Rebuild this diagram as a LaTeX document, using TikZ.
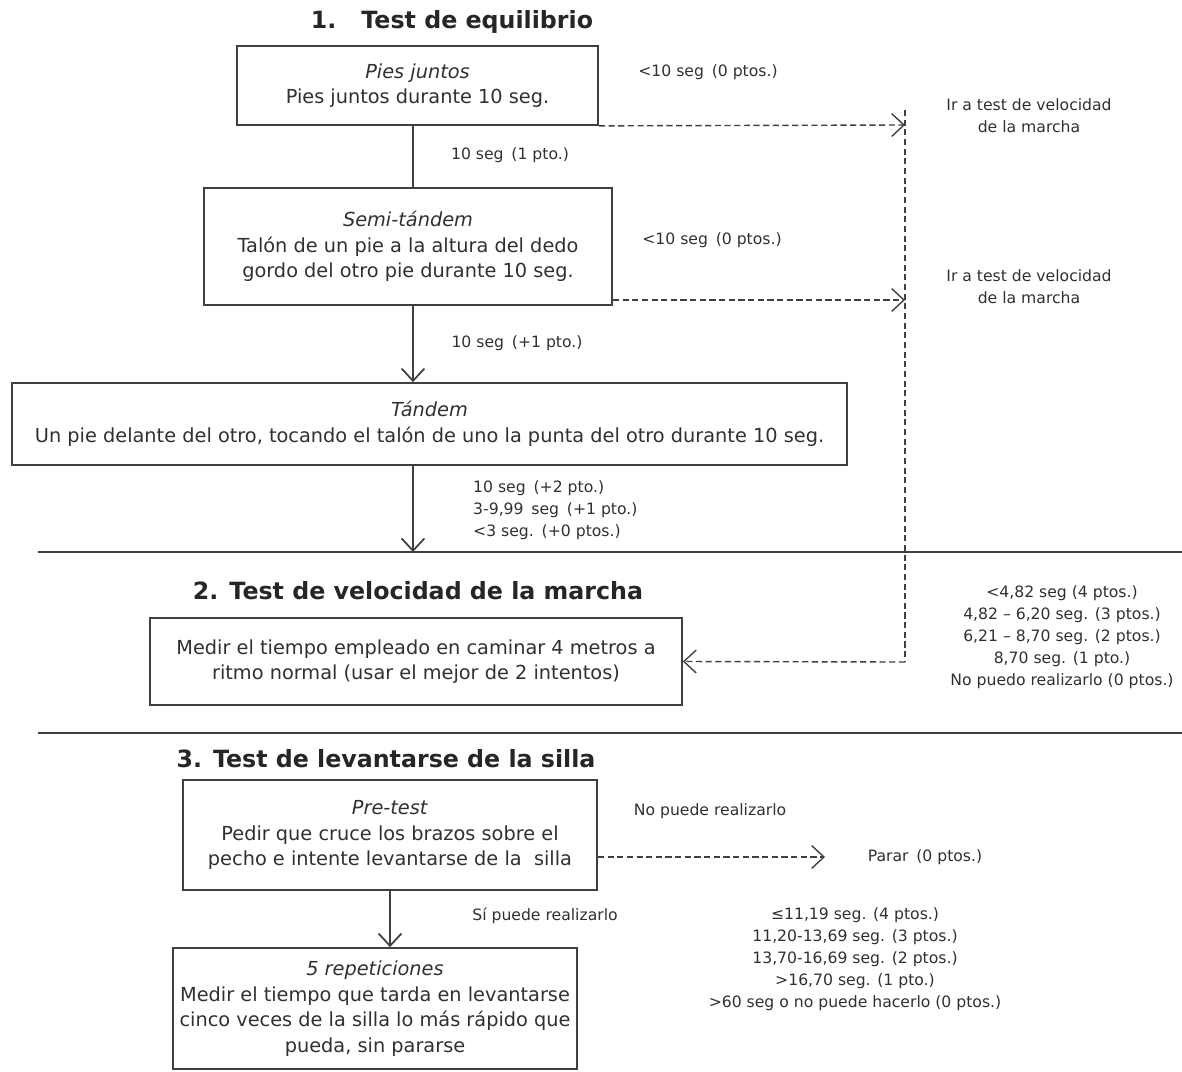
\documentclass[tikz,border=0pt]{standalone}
\usepackage{fontspec}
\setmainfont{DejaVu Sans}
\usetikzlibrary{arrows.meta}
\definecolor{ink}{HTML}{303030}
\definecolor{rulegray}{HTML}{404040}

\begin{document}
\begin{tikzpicture}[x=0.02cm,y=-0.02cm,
  title/.style={text=black!85,font=\fontsize{13.5}{16}\selectfont\bfseries},
  note/.style={align=center,text=ink,font=\fontsize{8.9}{12.6}\selectfont},
  barb/.style={-{Straight Barb[length=7pt,width=13pt]}},
  dashline/.style={rulegray,line width=0.8pt,dash pattern=on 3.5pt off 2pt}]
\useasboundingbox (0,0) rectangle (1182,1071);

% headings
\node[title] (t1) at (452,22) {1.\hspace{0.5cm}Test de equilibrio};
\node[title] (t2) at (418,591) {2. Test de velocidad de la marcha};
\node[title] (t3) at (386,759) {3. Test de levantarse de la silla};

\begin{scope}[every node/.style={draw=rulegray,line width=1pt,align=center,inner sep=0pt,
                                 text=ink,font=\fontsize{11}{14.5}\selectfont}]
    \node[minimum width=7.22cm,minimum height=1.58cm] (pies) at (417.5,85.5)
        {\textit{Pies juntos}\\Pies juntos durante 10 seg.};
    \node[minimum width=8.16cm,minimum height=2.34cm] (semi) at (408,246.5)
        {\textit{Semi-tándem}\\Talón de un pie a la altura del dedo\\gordo del otro pie durante 10 seg.};
    \node[minimum width=16.7cm,minimum height=1.64cm] (tandem) at (429.5,424)
        {\textit{Tándem}\\Un pie delante del otro, tocando el talón de uno la punta del otro durante 10 seg.};
    \node[minimum width=10.64cm,minimum height=1.74cm] (marcha) at (416,661.5)
        {Medir el tiempo empleado en caminar 4 metros a\\ritmo normal (usar el mejor de 2 intentos)};
    \node[minimum width=8.28cm,minimum height=2.2cm] (pretest) at (390,835)
        {\textit{Pre-test}\\Pedir que cruce los brazos sobre el\\pecho e intente levantarse de la\ \ silla};
    \node[minimum width=8.08cm,minimum height=2.42cm] (rep) at (375,1008.5)
        {\textit{5 repeticiones}\\Medir el tiempo que tarda en levantarse\\cinco veces de la silla lo más rápido que\\pueda, sin pararse};
\end{scope}

% labels
\node[note] (n1) at (708,72) {<10 seg\enspace(0 ptos.)};
\node[note] (ir1) at (1029,116) {Ir a test de velocidad\\de la marcha};
\node[note] (p1) at (510,155) {10 seg\enspace(1 pto.)};
\node[note] (n2) at (712,240) {<10 seg\enspace(0 ptos.)};
\node[note] (ir2) at (1029,287) {Ir a test de velocidad\\de la marcha};
\node[note] (p2) at (517,343) {10 seg\enspace(+1 pto.)};
\node[note,align=left,anchor=west] (p3) at (467,510)
    {10 seg\enspace(+2 pto.)\\3-9,99\enspace seg\enspace(+1 pto.)\\<3 seg.\enspace(+0 ptos.)};
\node[note] (vel) at (1062,637)
    {<4,82 seg (4 ptos.)\\4,82 -- 6,20 seg. (3 ptos.)\\6,21 -- 8,70 seg. (2 ptos.)\\8,70 seg. (1 pto.)\\No puedo realizarlo (0 ptos.)};
\node[note] (nopuede) at (710,811) {No puede realizarlo};
\node[note] (parar) at (925,857) {Parar\enspace(0 ptos.)};
\node[note] (si) at (545,916) {Sí puede realizarlo};
\node[note] (silla) at (855,959)
    {≤11,19 seg. (4 ptos.)\\11,20-13,69 seg. (3 ptos.)\\13,70-16,69 seg. (2 ptos.)\\>16,70 seg. (1 pto.)\\>60 seg o no puede hacerlo (0 ptos.)};

% section rules
\draw[rulegray,line width=1pt] (38,552) -- (1182,552);
\draw[rulegray,line width=1pt] (38,733) -- (1182,733);

\coordinate (spine) at (413,0);
\coordinate (j1) at (905,125);
\coordinate (j2) at (905,300);
\coordinate (jtop) at (905,110);
\coordinate (jbot) at (905,662);
\coordinate (stop) at (825,857);

\begin{scope}[rulegray,line width=1pt]
    \draw (pies.south -| spine) -- (semi.north -| spine);
    \draw[barb] (semi.south -| spine) -- (tandem.north -| spine);
    \draw[barb] (tandem.south -| spine) -- (spine |- 0,552);
    \draw[barb] (pretest.south) -- (pretest.south |- rep.north);
\end{scope}

\begin{scope}[every path/.style={dashline}]
    \draw[barb] (pies.south east) -- (j1);
    \draw[barb] (semi.south east |- j2) -- (j2);
    \draw (jtop) -- (jbot);
    \draw[barb] (jbot) -- (marcha.east);
    \draw[barb] (pretest.east |- stop) -- (stop);
\end{scope}
\end{tikzpicture}
\end{document}
